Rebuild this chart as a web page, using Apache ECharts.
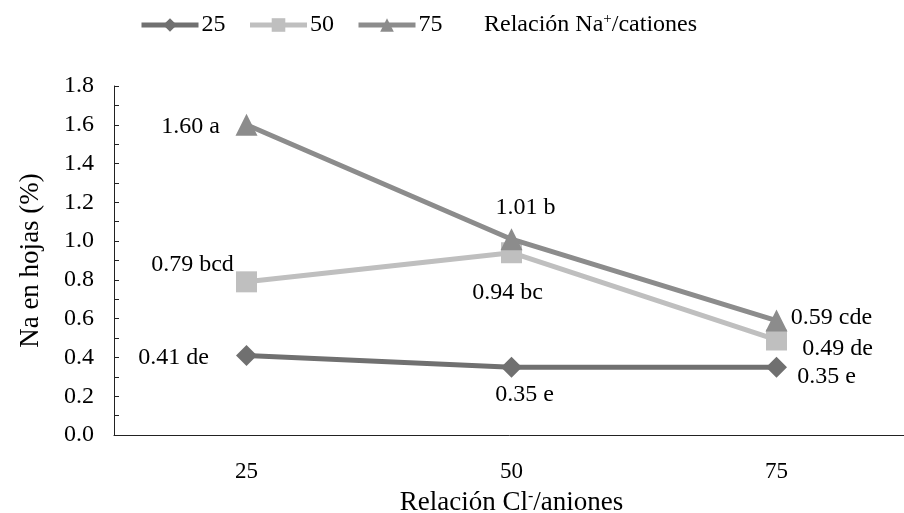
<!DOCTYPE html>
<html>
<head>
<meta charset="utf-8">
<script src="https://cdn.jsdelivr.net/npm/echarts@6/dist/echarts.min.js"></script>
<style>html,body{margin:0;padding:0;background:#fff}#c{width:904px;height:513px}</style>
</head>
<body>
<div id="c"></div>
<script>
const categories = ['25', '50', '75'];
const seriesNames = ['25', '50', '75'];
const values25 = [0.41, 0.35, 0.35];
const values50 = [0.79, 0.94, 0.49];
const values75 = [1.60, 1.01, 0.59];
const labels25 = ['0.41 de', '0.35 e', '0.35 e'];
const labels50 = ['0.79 bcd', '0.94 bc', '0.49 de'];
const labels75 = ['1.60 a', '1.01 b', '0.59 cde'];
const yTicks = [0, 0.2, 0.4, 0.6, 0.8, 1.0, 1.2, 1.4, 1.6, 1.8];

// label offsets (layout, px) relative to each point
const off25 = [[-73, 2], [13, 28], [50, 10]];
const off50 = [[-54, -17], [-4, 40], [61, 9]];
const off75 = [[-56, 2], [14, -31], [55, -3]];

const FONT = "'Liberation Serif', 'Times New Roman', serif";
const colors = ['#707070', '#bfbfbf', '#8c8c8c'];
const symbols = ['diamond', 'rect', 'triangle'];
const sizes = [21, 21, 22];

function mkData(vals, labs, offs) {
  return vals.map((v, i) => ({
    value: v,
    label: { show: true, formatter: labs[i], offset: offs[i] }
  }));
}

const datasets = [
  mkData(values25, labels25, off25),
  mkData(values50, labels50, off50),
  mkData(values75, labels75, off75)
];

const chart = echarts.init(document.getElementById('c'), null, { renderer: 'canvas' });
chart.setOption({
  animation: false,
  backgroundColor: '#fff',
  textStyle: { fontFamily: FONT },
  legend: {
    left: 139, top: 13, padding: 0,
    itemWidth: 57, itemHeight: 17, itemGap: 22,
    data: seriesNames,
    lineStyle: { width: 5 },
    textStyle: { fontFamily: FONT, fontSize: 24, color: '#000', padding: [0, 0, 0, -2] }
  },
  graphic: [{
    type: 'text', left: 484, top: 12,
    style: {
      text: '{a|Relación Na}{s|+}{a|/cationes}',
      rich: {
        a: { fontFamily: FONT, fontSize: 24, fill: '#000' },
        s: { fontFamily: FONT, fontSize: 15, fill: '#000', padding: [0, 0, 10, 0] }
      }
    }
  }],
  grid: { left: 114, top: 86, bottom: 78, right: -5, containLabel: false, outerBoundsMode: 'none' },
  xAxis: {
    type: 'category', data: categories, boundaryGap: true,
    name: '{a|Relación Cl}{s|-}{a|/aniones}',
    nameLocation: 'middle', nameGap: 54,
    nameTextStyle: {
      rich: {
        a: { fontFamily: FONT, fontSize: 27, color: '#000' },
        s: { fontFamily: FONT, fontSize: 16, color: '#000', padding: [0, 0, 11, 0] }
      }
    },
    axisLine: { lineStyle: { color: '#222', width: 1 } },
    axisTick: { alignWithLabel: true, inside: true, length: 6, lineStyle: { color: '#222' } },
    axisLabel: { fontFamily: FONT, fontSize: 23, color: '#000', margin: 25 },
    splitLine: { show: false }
  },
  yAxis: {
    type: 'value', min: 0, max: 1.8, interval: 0.2,
    name: 'Na en hojas (%)', nameLocation: 'middle', nameGap: 70,
    nameTextStyle: { fontFamily: FONT, fontSize: 27, color: '#000' },
    axisLine: { show: true, lineStyle: { color: '#222', width: 1 } },
    axisTick: { show: true, inside: true, length: 5, lineStyle: { color: '#222' } },
    minorTick: { show: true, splitNumber: 2, length: 5, lineStyle: { color: '#222' } },
    axisLabel: { fontFamily: FONT, fontSize: 24, color: '#000', margin: 20,
      formatter: v => (yTicks.indexOf(Math.round(v * 10) / 10) >= 0 ? v.toFixed(1) : '') },
    splitLine: { show: false }
  },
  series: seriesNames.map((n, k) => ({
    name: n, type: 'line', data: datasets[k],
    symbol: symbols[k], symbolSize: sizes[k],
    itemStyle: { color: colors[k] },
    lineStyle: { color: colors[k], width: 5 },
    label: { show: true, position: 'inside', align: 'center', verticalAlign: 'middle',
      fontFamily: FONT, fontSize: 24, color: '#000' },
    z: k === 1 ? 3 : (k === 2 ? 4 : 2)
  }))
});
</script>
</body>
</html>
